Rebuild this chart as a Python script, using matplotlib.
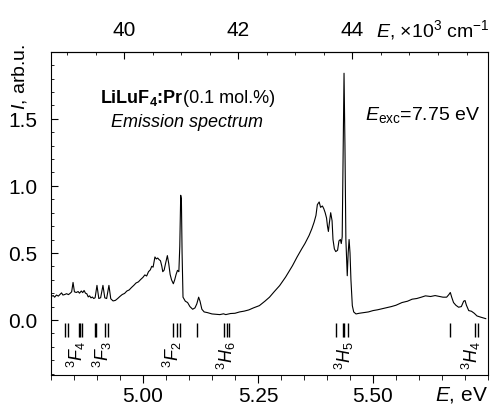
import numpy as np
import matplotlib
matplotlib.use("Agg")
import matplotlib.pyplot as plt

plt.rcParams['font.family'] = ['Liberation Sans', 'DejaVu Sans']
plt.rcParams['mathtext.fontset'] = 'custom'
plt.rcParams['mathtext.rm'] = 'Liberation Sans'
plt.rcParams['mathtext.it'] = 'Liberation Sans:italic'
plt.rcParams['mathtext.bf'] = 'Liberation Sans:bold'

# emission spectrum (photon energy in eV, intensity arb.u.)
energy = [4.800, 4.805, 4.808, 4.812, 4.816, 4.820, 4.823, 4.826, 4.830, 4.834,
          4.838, 4.842, 4.845, 4.848, 4.851, 4.855, 4.859, 4.862, 4.866, 4.869,
          4.872, 4.875, 4.878, 4.881, 4.884, 4.887, 4.890, 4.893, 4.896, 4.900,
          4.904, 4.908, 4.913, 4.917, 4.921, 4.926, 4.930, 4.935, 4.940, 4.945,
          4.950, 4.955, 4.960, 4.965, 4.970, 4.975, 4.980, 4.985, 4.990, 4.995,
          5.000, 5.004, 5.008, 5.012, 5.016, 5.019, 5.022, 5.024, 5.026, 5.029,
          5.032, 5.035, 5.038, 5.041, 5.043, 5.046, 5.049, 5.053, 5.056, 5.059,
          5.062, 5.066, 5.069, 5.072, 5.075, 5.078, 5.080, 5.082, 5.0835, 5.085,
          5.087, 5.092, 5.097, 5.102, 5.108, 5.113, 5.117, 5.121, 5.124, 5.128,
          5.133, 5.140, 5.150, 5.160, 5.167, 5.175, 5.180, 5.190, 5.200, 5.210,
          5.220, 5.230, 5.240, 5.253, 5.265, 5.275, 5.285, 5.297, 5.310, 5.325,
          5.335, 5.345, 5.352, 5.361, 5.367, 5.372, 5.376, 5.379, 5.383, 5.386,
          5.390, 5.393, 5.396, 5.399, 5.401, 5.403, 5.405, 5.408, 5.411, 5.413,
          5.416, 5.419, 5.423, 5.426, 5.429, 5.431, 5.433, 5.435, 5.437, 5.439,
          5.441, 5.444, 5.446, 5.448, 5.450, 5.452, 5.455, 5.458, 5.463, 5.470,
          5.480, 5.490, 5.500, 5.510, 5.520, 5.530, 5.540, 5.550, 5.563, 5.575,
          5.585, 5.595, 5.605, 5.614, 5.625, 5.635, 5.645, 5.652, 5.660, 5.665,
          5.668, 5.671, 5.675, 5.680, 5.686, 5.692, 5.697, 5.700, 5.703, 5.708,
          5.714, 5.720, 5.726, 5.735, 5.745]
intensity = [0.175, 0.182, 0.170, 0.186, 0.178, 0.192, 0.202, 0.186, 0.190, 0.196,
             0.189, 0.200, 0.210, 0.280, 0.210, 0.205, 0.212, 0.200, 0.216, 0.204,
             0.220, 0.200, 0.195, 0.172, 0.180, 0.165, 0.171, 0.160, 0.166, 0.258,
             0.160, 0.166, 0.258, 0.165, 0.160, 0.258, 0.158, 0.142, 0.146, 0.160,
             0.176, 0.190, 0.198, 0.216, 0.224, 0.242, 0.258, 0.276, 0.284, 0.302,
             0.318, 0.336, 0.328, 0.360, 0.374, 0.400, 0.394, 0.430, 0.470, 0.455,
             0.462, 0.450, 0.442, 0.400, 0.360, 0.372, 0.420, 0.480, 0.420, 0.340,
             0.300, 0.270, 0.300, 0.340, 0.370, 0.360, 0.550, 0.930, 0.900, 0.500,
             0.170, 0.140, 0.130, 0.100, 0.080, 0.090, 0.120, 0.170, 0.140, 0.080,
             0.060, 0.055, 0.045, 0.042, 0.040, 0.046, 0.040, 0.048, 0.050, 0.060,
             0.066, 0.075, 0.090, 0.107, 0.140, 0.170, 0.210, 0.256, 0.320, 0.405,
             0.470, 0.530, 0.570, 0.630, 0.680, 0.730, 0.780, 0.860, 0.880, 0.840,
             0.850, 0.830, 0.800, 0.760, 0.700, 0.660, 0.720, 0.800, 0.740, 0.600,
             0.530, 0.510, 0.520, 0.590, 0.600, 0.570, 0.620, 1.200, 1.840, 1.300,
             0.600, 0.330, 0.500, 0.600, 0.500, 0.300, 0.107, 0.060, 0.045, 0.050,
             0.055, 0.060, 0.070, 0.076, 0.084, 0.092, 0.100, 0.110, 0.130, 0.140,
             0.155, 0.160, 0.170, 0.180, 0.175, 0.182, 0.175, 0.170, 0.170, 0.190,
             0.205, 0.170, 0.130, 0.110, 0.095, 0.100, 0.140, 0.145, 0.110, 0.070,
             0.065, 0.050, 0.030, 0.020, 0.010]

# Pr3+ level positions (eV) drawn as short bars below zero
levels = [4.830, 4.838, 4.860, 4.864, 4.867, 4.895, 4.897, 4.918, 4.924,
          5.066, 5.073, 5.080, 5.118, 5.176, 5.182, 5.188,
          5.419, 5.434, 5.437, 5.446, 5.668, 5.721, 5.728]
term_names = [r'$^3F_4$', r'$^3F_3$', r'$^3F_2$', r'$^3H_6$', r'$^3H_5$', r'$^3H_4$']
term_pos = [4.856, 4.911, 5.065, 5.181, 5.437, 5.714]

fig = plt.figure(figsize=(4.9, 4.06), dpi=100)
ax = fig.add_axes([0.104, 0.074, 0.892, 0.796])

ax.plot(energy, intensity, color='black', lw=0.8)
ax.vlines(levels, -0.13, -0.02, color='black', lw=1.0)
for name, xp in zip(term_names, term_pos):
    ax.text(xp, -0.145, name, rotation=90, ha='center', va='top', fontsize=13)

ax.set_xlim(4.80, 5.747)
ax.set_ylim(-0.41, 2.0)
ax.set_xticks([5.00, 5.25, 5.50])
ax.set_xticklabels(['5.00', '5.25', '5.50'])
ax.set_xticks(np.arange(4.80, 5.75, 0.05), minor=True)
ax.set_yticks([0.0, 0.5, 1.0, 1.5])
ax.set_yticklabels(['0.0', '0.5', '1.0', '1.5'])
ax.set_yticks(np.arange(-0.4, 2.0, 0.1), minor=True)
ax.tick_params(axis='x', which='both', direction='out', labelsize=15, pad=2)
ax.tick_params(axis='x', which='major', length=6)
ax.tick_params(axis='x', which='minor', length=3.5)
ax.tick_params(axis='y', which='both', direction='in', labelsize=15, right=False, pad=10)
ax.tick_params(axis='y', which='major', length=5)
ax.tick_params(axis='y', which='minor', length=2.5)

top = ax.secondary_xaxis('top', functions=(lambda e: e / 0.123984, lambda k: k * 0.123984))
top.set_xticks([40, 42, 44])
top.set_xticklabels(['40', '42', '44'])
top.set_xticks(np.arange(38.5, 46.5, 0.5), minor=True)
top.tick_params(which='both', direction='in', labelsize=15, pad=9)
top.tick_params(which='major', length=5)
top.tick_params(which='minor', length=2.5)

ax.text(-0.072, 0.925, r'$I$, arb.u.', transform=ax.transAxes, rotation=90,
        ha='center', va='center', fontsize=14)
ax.text(0.743, 1.07, r'$E$, $\times$10$^3$ cm$^{-1}$', transform=ax.transAxes,
        ha='left', va='center', fontsize=14)
ax.text(1.0, -0.058, r'$E$, eV', transform=ax.transAxes, ha='right', va='center',
        fontsize=15)

# bold formula followed by regular-weight concentration on the same baseline
t1 = ax.text(0.112, 0.845, r'LiLuF$_\mathbf{4}$:Pr', transform=ax.transAxes,
             fontweight='bold', ha='left', va='baseline', fontsize=13)
fig.canvas.draw()
bb = t1.get_window_extent(fig.canvas.get_renderer()).transformed(ax.transAxes.inverted())
ax.text(bb.x1, 0.845, '(0.1 mol.%)', transform=ax.transAxes,
        ha='left', va='baseline', fontsize=13)
ax.text(0.137, 0.783, 'Emission spectrum', transform=ax.transAxes, style='italic',
        ha='left', va='center', fontsize=13)
ax.text(0.719, 0.808, r'$E_{\rm exc}$=7.75 eV', transform=ax.transAxes,
        ha='left', va='center', fontsize=14)

fig.savefig('out.png', dpi=100)
